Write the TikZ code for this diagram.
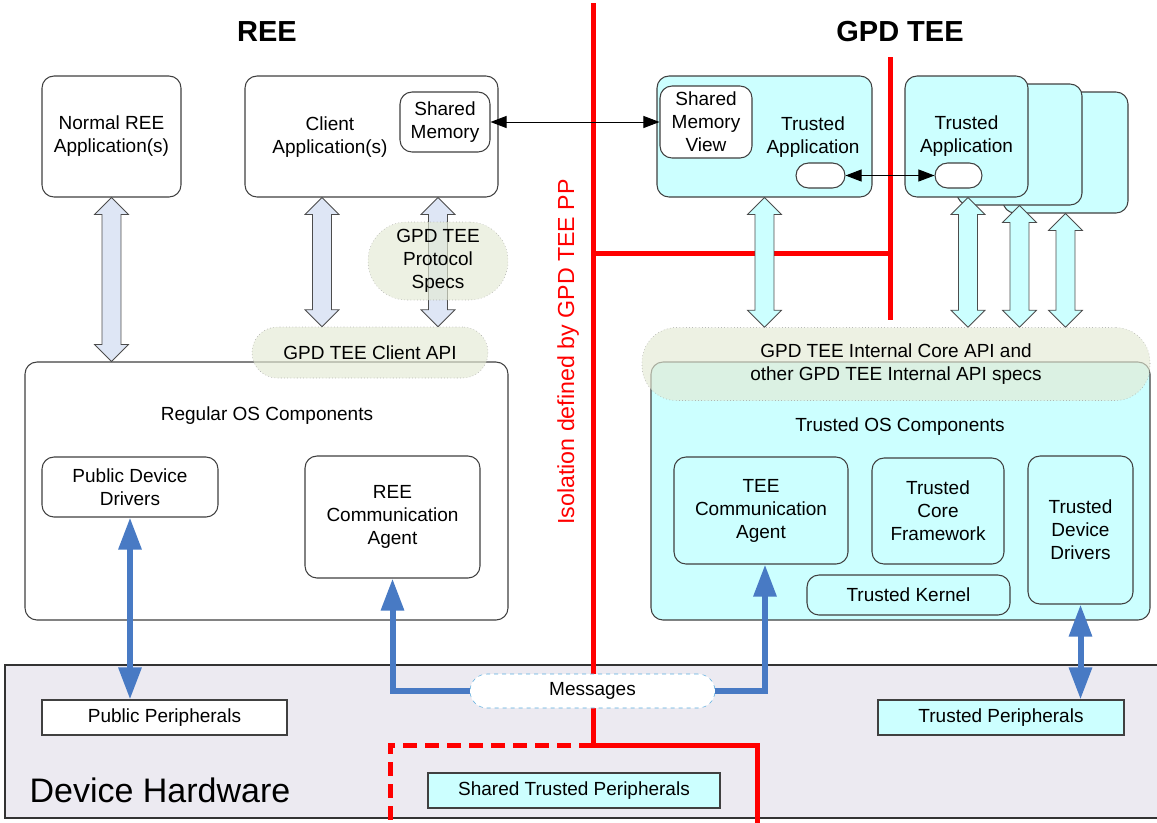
\documentclass[tikz,border=0pt]{standalone}
\usepackage{fontspec}
\setmainfont{Liberation Sans}
\usetikzlibrary{arrows.meta,calc}

\definecolor{teecyan}{RGB}{204,255,255}
\definecolor{reearrow}{RGB}{222,230,245}
\definecolor{apigreen}{RGB}{228,234,212}
\definecolor{hwgray}{RGB}{236,234,241}
\definecolor{msgblue}{RGB}{72,122,196}
\definecolor{msgdash}{RGB}{90,172,222}

\pgfdeclarelayer{front}
\pgfsetlayers{main,front}

\newcommand\lbl{\fontsize{14.25pt}{17.25pt}\selectfont}
% fat two-headed arrow, x taken from the upper end
\newcommand\dblarrow[3][reefat]{%
  \draw[#1] let \p1=(#2), \p2=(#3) in
    (\x1,\y1) -- (\x1+12.75pt,\y1-12.75pt) -- (\x1+7.1pt,\y1-12.75pt)
    -- (\x1+7.1pt,\y2+12.75pt) -- (\x1+12.75pt,\y2+12.75pt) -- (\x1,\y2)
    -- (\x1-12.75pt,\y2+12.75pt) -- (\x1-7.1pt,\y2+12.75pt)
    -- (\x1-7.1pt,\y1-12.75pt) -- (\x1-12.75pt,\y1-12.75pt) -- cycle;}

\begin{document}
\begin{tikzpicture}[x=0.75pt,y=-0.75pt,
  wh/.style 2 args={minimum width=#1*0.75pt,minimum height=#2*0.75pt,inner sep=0pt},
  box/.style={draw=black!75,line width=0.8pt,rounded corners=9pt,fill=white,align=center,font=\lbl},
  tbox/.style={box,fill=teecyan},
  spec/.style={draw=black!40,dotted,fill=apigreen,fill opacity=0.65,text opacity=1,align=center,font=\lbl},
  periph/.style={draw=black!75,line width=0.8pt,fill=white,font=\lbl},
  tperiph/.style={periph,fill=teecyan},
  txt/.style={font=\lbl,align=center},
  title/.style={font=\fontsize{21.75pt}{26pt}\selectfont\bfseries},
  iso/.style={red,line width=3.75pt},
  hwlink/.style={draw=msgblue,line width=4.5pt,-{Triangle[length=24pt,width=16.5pt]}},
  hwboth/.style={hwlink,{Triangle[length=24pt,width=16.5pt]}-{Triangle[length=24pt,width=16.5pt]}},
  reefat/.style={draw=black!70,fill=reearrow,line width=0.6pt},
  teefat/.style={reefat,fill=teecyan},
  memlink/.style={black,line width=0.7pt,{Triangle[length=12pt,width=9pt]}-{Triangle[length=12pt,width=9pt]}}
]
\useasboundingbox (0,0) rectangle (1157,822);

% hardware layer
\node[wh={1160}{153},draw=black!80,line width=0.8pt,fill=hwgray] (hw) at (585,741.5) {};
\node[font=\fontsize{25.5pt}{30pt}\selectfont] (hwtxt) at (160,790) {Device Hardware};

% isolation border
\draw[iso] (593,3) -- (593,745) -| (757,826);
\draw[iso,dash pattern=on 10.5pt off 6pt] (593,745) -| (390,826);
\draw[iso] (593,253) -- (890,253);
\draw[iso] (890,57) -- (890,320);
\node[rotate=90,text=red,font=\fontsize{17.4pt}{20pt}\selectfont] (isotxt) at (568,352) {Isolation defined by GPD TEE PP};

\node[title] (reetitle) at (267,32) {REE};
\node[title] (teetitle) at (900,32) {GPD TEE};

% REE side
\node[box,wh={139}{121}] (normal) at (111.5,136.5) {Normal REE\\Application(s)};
\node[box,wh={253}{121}] (client) at (371.5,136.5) {};
\node[txt] (clienttxt) at (330,137) {Client\\Application(s)};
\node[box,wh={90}{60}] (shm) at (445,122) {Shared\\Memory};
\node[box,wh={483}{258}] (regos) at (266.5,491) {};
\node[txt] (regostxt) at (267,416) {Regular OS Components};
\node[box,wh={176}{60}] (pdd) at (130,487) {Public Device\\Drivers};
\node[box,wh={175}{122}] (reeagent) at (392.5,517) {REE\\Communication\\Agent};

% TEE side
\node[tbox,wh={215}{121}] (ta1) at (764.5,136.5) {};
\node[txt] (ta1txt) at (813,137) {Trusted\\Application};
\node[box,wh={92}{72}] (shmv) at (706,122) {Shared\\Memory\\View};
\node[box,wh={49}{25},rounded corners=9.4pt] (ta1port) at (820.5,175.5) {};
\node[tbox,wh={125}{121}] (ta2c) at (1065.5,152.5) {};
\node[tbox,wh={125}{121}] (ta2b) at (1019.5,144.5) {};
\node[tbox,wh={123}{121}] (ta2) at (966.5,136.5) {Trusted\\Application};
\node[box,wh={47}{25},rounded corners=9.4pt] (ta2port) at (958.5,175.5) {};
\node[tbox,wh={499}{258}] (tos) at (900.5,491) {};
\node[txt] (tostxt) at (900,427) {Trusted OS Components};
\node[tbox,wh={174}{107}] (teeagent) at (761,510.5) {TEE\\Communication\\Agent};
\node[tbox,wh={132}{106}] (tcf) at (938,511) {Trusted\\Core\\Framework};
\node[tbox,wh={203}{40}] (tk) at (908.5,595) {Trusted Kernel};
\node[tbox,wh={105}{148}] (tdd) at (1080.5,530) {Trusted\\Device\\Drivers};

% peripherals
\node[periph,wh={245}{35}] (pp) at (164.5,717.5) {Public Peripherals};
\node[tperiph,wh={246}{35}] (tp) at (1001,717.5) {Trusted Peripherals};
\node[tperiph,wh={292}{35}] (stp) at (574,790.5) {Shared Trusted Peripherals};
\node[draw=msgdash,dashed,fill=white,rounded corners=12.75pt,wh={245}{34},font=\lbl] (msg) at (592.5,691) {Messages};

% API specs, laid over the arrows
\begin{pgfonlayer}{front}
\node[spec,wh={140}{78},rounded corners=29pt] (proto) at (438,261) {GPD TEE\\Protocol\\Specs};
\node[spec,wh={236}{51},rounded corners=19pt] (clientapi) at (370,352.5) {GPD TEE Client API};
\node[spec,wh={508}{73},rounded corners=26pt] (intapi) at (896,364) {GPD TEE Internal Core API and\\other GPD TEE Internal API specs};
\end{pgfonlayer}

% fat arrows
\dblarrow{normal.south}{regos.north}
\dblarrow{$(client.south)+(-49.5,0)$}{clientapi.north}
\dblarrow{proto |- client.south}{clientapi.north}
\dblarrow[teefat]{ta1.south}{intapi.north}
\dblarrow[teefat]{$(ta2.south)+(1.5,0)$}{intapi.north}
\dblarrow[teefat]{ta2b.south}{intapi.north}
\dblarrow[teefat]{ta2c.south}{intapi.north}

% links
\draw[memlink] (shm) -- (shmv);
\draw[memlink] (ta1port) -- (ta2port);
\draw[hwboth] (pdd.south) -- (pdd.south |- pp.north);
\draw[hwboth] (tdd.south) -- (tdd.south |- tp.north);
\draw[hwlink] (msg.west) -| (reeagent.south);
\draw[hwlink] (msg.east) -| ($(teeagent.south)+(4,0)$);
\end{tikzpicture}
\end{document}
